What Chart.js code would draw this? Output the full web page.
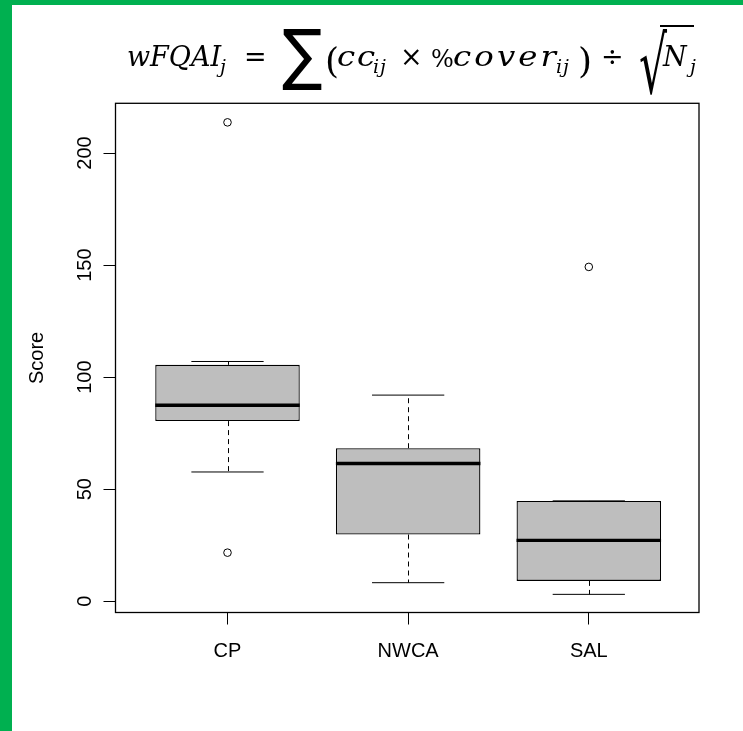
<!DOCTYPE html>
<html>
<head>
<meta charset="utf-8">
<script src="https://cdn.jsdelivr.net/npm/chart.js@4/dist/chart.umd.min.js"></script>
<style>
  body { margin: 0; background: #fff; }
  #page { position: relative; width: 743px; height: 731px; overflow: hidden; background: #fff; }
  #greenLeft { position: absolute; left: 0; top: 0; width: 12px; height: 731px; background: #00b050; }
  #greenTop { position: absolute; left: 0; top: 0; width: 743px; height: 5px; background: #00b050; }
  #chart { position: absolute; left: 0; top: 0; }
  #formula span { position: absolute; white-space: nowrap; color: #000; }
  #formula .mi { font: italic 27px 'DejaVu Serif'; line-height: 30px; top: 42px; }
  #formula .lo { transform: scaleX(1.2); transform-origin: left top; }
  #formula .op { font: 27px 'DejaVu Serif'; line-height: 30px; top: 42px; }
  #formula .pct { font: 24px 'DejaVu Serif'; line-height: 30px; top: 44px; }
  #formula .par { font: 36px 'DejaVu Serif'; line-height: 30px; top: 46px; }
  #formula .sb { font: italic 19px 'DejaVu Serif'; line-height: 20px; top: 56px; letter-spacing: 1px; }
  #formula .sum { font: 60px 'DejaVu Sans'; line-height: 60px; top: 20px; transform: scaleY(1.11); transform-origin: left top; }
  #formula .rad { font: 44px 'DejaVu Sans'; line-height: 44px; top: 26px; transform: scaleY(1.8); transform-origin: left top; }
  #sqrtBar { position: absolute; left: 660px; top: 25px; width: 34px; border-top: 2px solid #000; }
</style>
</head>
<body>
<div id="page">
  <canvas id="chart" width="743" height="731"></canvas>
  <div id="greenLeft"></div>
  <div id="greenTop"></div>
  <div id="formula">
    <span class="mi" style="left:127px">wFQAI</span>
    <span class="sb" style="left:220px">j</span>
    <span class="op" style="left:244px">=</span>
    <span class="sum" style="left:282px">∑</span>
    <span class="par" style="left:325px">(</span>
    <span class="mi lo" style="left:337px; letter-spacing:1.5px">cc</span>
    <span class="sb" style="left:373px">ij</span>
    <span class="op" style="left:400px">×</span>
    <span class="pct" style="left:431px">%</span>
    <span class="mi lo" style="left:453px; letter-spacing:2.6px">cover</span>
    <span class="sb" style="left:556px">ij</span>
    <span class="par" style="left:578px">)</span>
    <span class="op" style="left:601px">÷</span>
    <span class="rad" style="left:639px">√</span>
    <span class="mi" style="left:663px">N</span>
    <span class="sb" style="left:690px">j</span>
  </div>
  <div id="sqrtBar"></div>
</div>
<script>
const CATEGORIES = ['CP', 'NWCA', 'SAL'];
const LOWER_WHISKER = [57.7, 8.3, 3.1];
const Q1 = [80.4, 29.8, 9.1];
const MEDIAN = [87.5, 61.5, 27.2];
const Q3 = [105.5, 68.3, 44.8];
const UPPER_WHISKER = [107.0, 92.0, 44.8];
const OUTLIERS = [[213.7, 21.7], [], [149.2]];
const Y_TICKS = [0, 50, 100, 150, 200];

const FONT = "'Liberation Sans', Arial, sans-serif";

// whiskers, caps, median and the frame round the plot (R boxplot style)
const boxExtras = {
  id: 'boxExtras',
  afterDatasetsDraw(chart) {
    const { ctx, scales: { x, y } } = chart;
    const line = (x1, y1, x2, y2) => {
      ctx.beginPath();
      ctx.moveTo(x1, y1);
      ctx.lineTo(x2, y2);
      ctx.stroke();
    };
    ctx.save();
    ctx.strokeStyle = '#000';
    CATEGORIES.forEach((c, i) => {
      const cx = Math.round(x.getPixelForValue(i + 1)) + 0.5;
      const capL = x.getPixelForValue(i + 1 - 0.2);
      const capR = x.getPixelForValue(i + 1 + 0.2);
      const boxL = x.getPixelForValue(i + 1 - 0.4);
      const boxR = x.getPixelForValue(i + 1 + 0.4);
      ctx.lineWidth = 1;
      ctx.setLineDash([5, 4]);
      line(cx, y.getPixelForValue(Q3[i]), cx, y.getPixelForValue(UPPER_WHISKER[i]));
      line(cx, y.getPixelForValue(Q1[i]), cx, y.getPixelForValue(LOWER_WHISKER[i]));
      ctx.setLineDash([]);
      line(capL, y.getPixelForValue(UPPER_WHISKER[i]), capR, y.getPixelForValue(UPPER_WHISKER[i]));
      line(capL, y.getPixelForValue(LOWER_WHISKER[i]), capR, y.getPixelForValue(LOWER_WHISKER[i]));
      ctx.lineWidth = 3.4;
      line(boxL, y.getPixelForValue(MEDIAN[i]), boxR, y.getPixelForValue(MEDIAN[i]));
    });
    ctx.restore();
  },
  afterDraw(chart) {
    const { ctx, chartArea: a } = chart;
    ctx.save();
    ctx.strokeStyle = '#000';
    ctx.lineWidth = 1.3;
    ctx.strokeRect(a.left, a.top, a.right - a.left, a.bottom - a.top);
    ctx.restore();
  }
};

const outlierPoints = [];
OUTLIERS.forEach((vals, i) => vals.forEach(v => outlierPoints.push({ x: i + 1, y: v })));

new Chart(document.getElementById('chart'), {
  type: 'bar',
  data: {
    datasets: [
      {
        type: 'bar',
        data: CATEGORIES.map((c, i) => ({ x: i + 1, y: [Q1[i], Q3[i]] })),
        backgroundColor: '#bebebe',
        borderColor: '#000',
        borderWidth: 1.3,
        borderSkipped: false,
        barPercentage: 0.8,
        categoryPercentage: 1
      },
      {
        type: 'scatter',
        data: outlierPoints,
        pointStyle: 'circle',
        pointRadius: 3.8,
        pointBorderWidth: 1,
        borderColor: '#000',
        backgroundColor: 'rgba(0,0,0,0)'
      }
    ]
  },
  options: {
    responsive: false,
    devicePixelRatio: 1,
    animation: false,
    events: [],
    layout: { padding: { top: 103.3, right: 44, left: 0, bottom: 0 } },
    plugins: { legend: { display: false }, tooltip: { enabled: false } },
    scales: {
      x: {
        type: 'linear',
        min: 0.38,
        max: 3.61,
        offset: false,
        grid: { offset: false, drawOnChartArea: false, drawTicks: true, tickLength: 12, color: '#000', lineWidth: 1 },
        border: { display: false },
        afterBuildTicks: s => { s.ticks = CATEGORIES.map((c, i) => ({ value: i + 1 })); },
        afterFit: s => { s.height = 731 - 612.5; },
        ticks: {
          autoSkip: false,
          padding: 15,
          color: '#000',
          font: { family: FONT, size: 20 },
          callback: v => CATEGORIES[v - 1]
        }
      },
      y: {
        type: 'linear',
        min: -5,
        max: 222.2,
        grid: { drawOnChartArea: false, drawTicks: true, tickLength: 12, color: '#000', lineWidth: 1 },
        border: { display: false },
        afterBuildTicks: s => { s.ticks = Y_TICKS.map(v => ({ value: v })); },
        afterFit: s => { s.width = 115.5; },
        title: {
          display: true,
          text: 'Score',
          color: '#000',
          font: { family: FONT, size: 20 },
          padding: { top: 25, bottom: 0 }
        },
        ticks: {
          minRotation: 90,
          maxRotation: 90,
          crossAlign: 'center',
          padding: 1,
          color: '#000',
          font: { family: FONT, size: 20 },
          callback: v => String(v)
        }
      }
    }
  },
  plugins: [boxExtras]
});
</script>
</body>
</html>
